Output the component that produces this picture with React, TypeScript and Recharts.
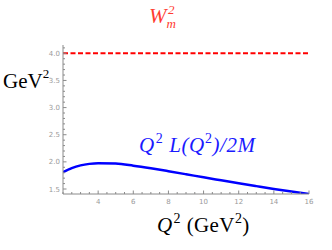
import { LineChart, Line, XAxis, YAxis, ReferenceLine } from "recharts";

// Q^2 (GeV^2) vs Q^2 L(Q^2)/2M (GeV^2)
const q2 = [2, 2.5, 3, 3.5, 4, 5, 6, 7, 8, 9, 10, 11, 12, 13, 14, 15, 16];
const curve = [1.81, 1.885, 1.935, 1.963, 1.975, 1.968, 1.93, 1.882, 1.828, 1.772, 1.715, 1.66, 1.605, 1.553, 1.502, 1.455, 1.41];
const wm2 = 4.0;

const xMajor = [4, 6, 8, 10, 12, 14, 16];
const yMajor = [1.5, 2.0, 2.5, 3.0, 3.5, 4.0];

const xTicks: number[] = [];
for (let i = 4; i <= 32; i++) xTicks.push(i / 2);
const yTicks: number[] = [];
for (let i = 15; i <= 41; i++) yTicks.push(i / 10);

const data = q2.map((x, i) => ({ x, y: curve[i] }));

const AXIS = "#8a8a8a";
const LABEL = "#9a9a9a";

const isMajor = (v: number, list: number[]) => list.some((m) => Math.abs(m - v) < 1e-6);

function XTick(props: any) {
  const { x, y, payload } = props;
  const major = isMajor(payload.value, xMajor);
  return (
    <g>
      <line x1={x} x2={x} y1={y} y2={y - (major ? 3.5 : 2)} stroke={AXIS} strokeWidth={1} />
      {major && (
        <text x={x} y={y + 10} textAnchor="middle" fontSize={7} fill={LABEL} fontFamily="DejaVu Sans">
          {payload.value}
        </text>
      )}
    </g>
  );
}

function YTick(props: any) {
  const { x, y, payload } = props;
  const major = isMajor(payload.value, yMajor);
  return (
    <g>
      <line x1={x} x2={x + (major ? 3.5 : 2)} y1={y} y2={y} stroke={AXIS} strokeWidth={1} />
      {major && (
        <text x={x - 3} y={y + 2.5} textAnchor="end" fontSize={7} fill={LABEL} fontFamily="DejaVu Sans">
          {payload.value.toFixed(1)}
        </text>
      )}
    </g>
  );
}

const serif = "Liberation Serif";

export default function App() {
  return (
    <div style={{ position: "absolute", left: 0, top: 0, width: 332, height: 250, background: "#fff" }}>
      <LineChart width={332} height={250} data={data} margin={{ top: 45, right: 23, bottom: 36, left: 33 }}>
        <XAxis
          dataKey="x"
          type="number"
          domain={[2, 16]}
          ticks={xTicks}
          interval={0}
          tick={<XTick />}
          tickLine={false}
          tickSize={0}
          tickMargin={0}
          height={20}
          stroke={AXIS}
          allowDataOverflow
        />
        <YAxis
          type="number"
          domain={[1.408, 4.153]}
          ticks={yTicks}
          interval={0}
          tick={<YTick />}
          tickLine={false}
          tickSize={0}
          tickMargin={0}
          width={30}
          stroke={AXIS}
          allowDataOverflow
        />
        <ReferenceLine y={wm2} stroke="#ff0000" strokeWidth={2} strokeDasharray="5 2.5" ifOverflow="extendDomain" />
        <Line
          dataKey="y"
          type="monotone"
          stroke="#0000ff"
          strokeWidth={2.5}
          dot={false}
          isAnimationActive={false}
        />
      </LineChart>
      <svg width={332} height={250} style={{ position: "absolute", left: 0, top: 0, pointerEvents: "none" }}>
        <text x={149} y={23} fontSize={21} fontFamily={serif} fontStyle="italic" fill="#ff3b30">
          W
          <tspan dy={5} fontSize={13}>m</tspan>
          <tspan dx={-8} dy={-14} fontSize={13}>2</tspan>
        </text>
        <text x={3} y={88} fontSize={21} fontFamily={serif} fill="#000">
          GeV
          <tspan dy={-10} fontSize={13}>2</tspan>
        </text>
        <text x={139} y={152} fontSize={21} fontFamily={serif} fontStyle="italic" fill="#1a1aff" letterSpacing={0.6}>
          Q<tspan dx={1} dy={-9} fontSize={14} fontStyle="normal">2</tspan>
          <tspan dy={9}> L(Q</tspan>
          <tspan dy={-9} fontSize={14} fontStyle="normal">2</tspan>
          <tspan dy={9}>)/2M</tspan>
        </text>
        <text x={157} y={232} fontSize={21} fontFamily={serif} fill="#000" letterSpacing={0.4}>
          <tspan fontStyle="italic">Q</tspan>
          <tspan dx={1} dy={-9} fontSize={14}>2</tspan>
          <tspan dy={9}> (GeV</tspan>
          <tspan dy={-9} fontSize={14}>2</tspan>
          <tspan dy={9}>)</tspan>
        </text>
      </svg>
    </div>
  );
}
